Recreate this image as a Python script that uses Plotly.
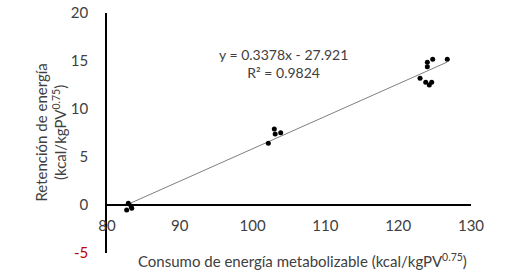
import plotly.graph_objects as go

# Data
consumo = [82.7, 82.93, 83.3, 83.4,
           102.16, 102.98, 103.1, 103.86,
           123.0, 123.78, 124.0, 124.0, 124.27, 124.6, 124.74, 126.74]
retencion = [-0.52, 0.18, -0.1, -0.34,
             6.43, 7.92, 7.4, 7.53,
             13.2, 12.78, 14.86, 14.4, 12.5, 12.78, 15.18, 15.18]
slope = 0.3378
intercept = -27.921
r2 = 0.9824

x_ticks = [80, 90, 100, 110, 120, 130]
y_ticks = [-5, 0, 5, 10, 15, 20]
y_ticktext = ["<span style='color:#C00000'>-5</span>", "0", "5", "10", "15", "20"]

FONT = "Lato, 'Open Sans', sans-serif"
TXT = "#404040"

x_line = [min(consumo), max(consumo)]
y_line = [slope * v + intercept for v in x_line]

fig = go.Figure()
fig.add_trace(go.Scatter(x=x_line, y=y_line, mode="lines",
                         line=dict(color="#7f7f7f", width=1), hoverinfo="skip"))
fig.add_trace(go.Scatter(x=consumo, y=retencion, mode="markers",
                         marker=dict(color="black", size=5)))

fig.add_annotation(x=104.2, y=14.7, xref="x", yref="y",
                   xanchor="center", yanchor="middle",
                   text=f"y = {slope}x - {abs(intercept)}<br>R² = {r2}",
                   showarrow=False, font=dict(family=FONT, size=14, color=TXT))

fig.add_annotation(x=0.537, y=-0.03, xref="paper", yref="paper",
                   xanchor="center", yanchor="middle",
                   text="Consumo de energía metabolizable (kcal/kgPV<sup>0.75</sup>)",
                   showarrow=False, font=dict(family=FONT, size=15, color=TXT))
fig.add_annotation(x=-0.155, y=0.5, xref="paper", yref="paper", textangle=-90,
                   xanchor="center", yanchor="middle",
                   text="Retención de energía<br>(kcal/kgPV<sup>0.75</sup>)",
                   showarrow=False, font=dict(family=FONT, size=15, color=TXT))

fig.update_layout(
    width=528, height=277,
    margin=dict(l=107, r=57, t=13, b=24, autoexpand=False),
    paper_bgcolor="white", plot_bgcolor="white",
    showlegend=False,
    font=dict(family=FONT, size=15, color=TXT),
    xaxis=dict(range=[80, 130], tickvals=x_ticks, anchor="free", position=0.2,
               showline=True, linecolor="black", linewidth=1.5, showgrid=False,
               zeroline=False, ticks="", ticklabelstandoff=7, automargin=False,
               ticklabeloverflow="allow"),
    yaxis=dict(range=[-5, 20], tickvals=y_ticks, ticktext=y_ticktext,
               showline=True, linecolor="black", linewidth=1.5, showgrid=False,
               zeroline=False, ticks="", ticklabelstandoff=14, automargin=False,
               ticklabeloverflow="allow"),
)

# remove the page's default body margin so the figure fills the window exactly
fig.write_html("out.html", config={"displayModeBar": False},
               post_script="document.body.style.margin='0';document.body.style.overflow='hidden';")
